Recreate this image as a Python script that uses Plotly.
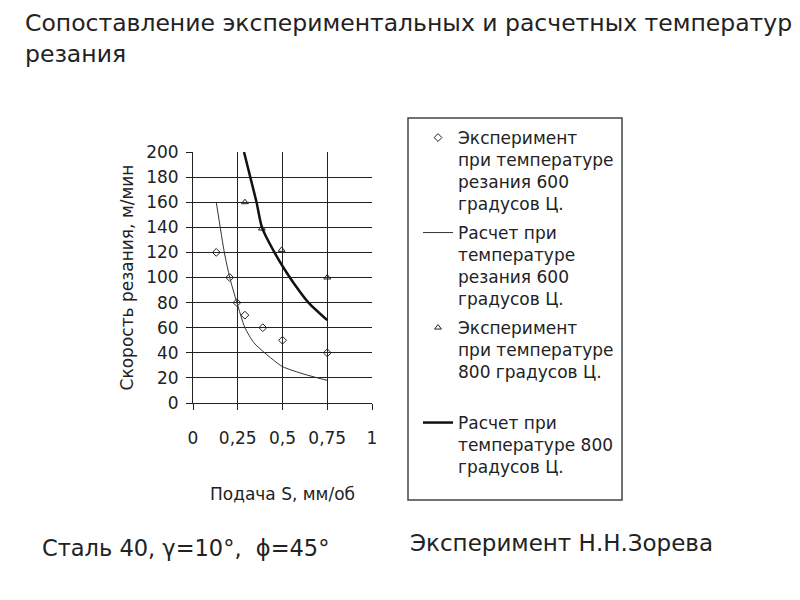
import plotly.graph_objects as go

# Подача S, мм/об  /  скорость резания V, м/мин
exp600_s = [0.13, 0.205, 0.245, 0.29, 0.39, 0.5, 0.75]
exp600_v = [120, 100, 80, 70, 60, 50, 40]

calc600_s = [0.13, 0.175, 0.205, 0.245, 0.29, 0.34, 0.40, 0.5, 0.62, 0.75]
calc600_v = [160, 120, 100, 80, 60, 48, 40, 29, 23, 18]

exp800_s = [0.29, 0.385, 0.495, 0.75]
exp800_v = [160, 139, 122, 100]

calc800_s = [0.285, 0.32, 0.355, 0.385, 0.455, 0.505, 0.57, 0.645, 0.75]
calc800_v = [200, 180, 160, 140, 120, 108, 94, 80, 66]

x_ticks = [0, 0.25, 0.5, 0.75, 1]
x_grid = [0.25, 0.5, 0.75]
y_ticks = list(range(0, 201, 20))
y_grid = list(range(20, 181, 20))

names = [
    "Эксперимент<br>при температуре<br>резания 600<br>градусов Ц.",
    "Расчет при<br>температуре<br>резания 600<br>градусов Ц.",
    "Эксперимент<br>при температуре<br>800 градусов Ц.",
    "Расчет при<br>температуре 800<br>градусов Ц.",
]

FONT = "DejaVu Sans"
INK = "#222222"

fig = go.Figure()

fig.add_trace(go.Scatter(
    x=exp600_s, y=exp600_v, mode="markers", name=names[0], legend="legend",
    marker=dict(symbol="diamond-open", size=6, color=INK, line=dict(width=1)),
))
fig.add_trace(go.Scatter(
    x=calc600_s, y=calc600_v, mode="lines", name=names[1], legend="legend2",
    line=dict(color="#333333", width=1, shape="spline", smoothing=0.6),
))
fig.add_trace(go.Scatter(
    x=exp800_s, y=exp800_v, mode="markers", name=names[2], legend="legend3",
    marker=dict(symbol="triangle-up-open", size=6, color=INK, line=dict(width=1)),
))
fig.add_trace(go.Scatter(
    x=calc800_s, y=calc800_v, mode="lines", name=names[3], legend="legend4",
    line=dict(color="#111111", width=2.5, shape="spline", smoothing=0.6),
    xaxis="x2", yaxis="y2",
))

# page has an 8px body margin; figure is 784x584
OFF = 8
FW, FH = 784, 584
# plot area in screen pixels: x 193..372, y 152..403
L, R, T, B = 193, 372, 152, 403
W, H = R - L, B - T


def px(xs):
    return (xs - L) / W


def py(ys):
    return (B - ys) / H


legend_style = dict(
    font=dict(family=FONT, size=17, color=INK),
    bgcolor="rgba(0,0,0,0)", borderwidth=0, valign="top",
    xanchor="left", yanchor="top", itemwidth=30,
)

fig.update_layout(
    width=FW, height=FH,
    margin=dict(l=L - OFF, r=FW - (R - OFF), t=T - OFF, b=FH - (B - OFF)),
    paper_bgcolor="white", plot_bgcolor="white",
    separators=", ",
    showlegend=True,
    font=dict(family=FONT, size=17, color=INK),
    title=dict(
        text="Сопоставление экспериментальных и расчетных температур<br>резания",
        x=(25 - OFF) / FW, xanchor="left", xref="container",
        y=1 - 23 / FH, yanchor="top", yref="container",
        font=dict(family=FONT, size=23.5, color=INK),
    ),
    xaxis=dict(
        range=[0, 1], tickvals=x_ticks, ticks="outside", ticklen=6,
        tickcolor=INK, showgrid=False, showline=True, linecolor=INK,
        linewidth=1, zeroline=False, ticklabelstandoff=14,
        title=dict(text="Подача S, мм/об", standoff=40,
                   font=dict(family=FONT, size=17, color=INK)),
    ),
    yaxis=dict(
        range=[0, 200], tickvals=y_ticks, ticks="outside", ticklen=6,
        tickcolor=INK, showgrid=False, showline=True, linecolor=INK,
        linewidth=1, zeroline=False, ticklabelstandoff=4,
        title=dict(text="Скорость резания, м/мин", standoff=8,
                   font=dict(family=FONT, size=17, color=INK)),
    ),
    xaxis2=dict(
        range=[0, 1], overlaying="x", tickvals=x_grid, showticklabels=False,
        showgrid=True, gridcolor=INK, gridwidth=1, zeroline=False,
    ),
    yaxis2=dict(
        range=[0, 200], overlaying="y", tickvals=y_grid, showticklabels=False,
        showgrid=True, gridcolor=INK, gridwidth=1, zeroline=False,
    ),
    legend=dict(x=px(418), y=py(120), **legend_style),
    legend2=dict(x=px(418), y=py(215), **legend_style),
    legend3=dict(x=px(418), y=py(310), **legend_style),
    legend4=dict(x=px(418), y=py(405), **legend_style),
    shapes=[dict(
        type="rect", xref="paper", yref="paper",
        x0=px(408), x1=px(622), y0=py(500), y1=py(118),
        line=dict(color="#444444", width=1.5),
    )],
    annotations=[
        dict(text="Сталь 40, γ=10°,  ϕ=45°", xref="paper", yref="paper",
             x=px(40), y=py(548), xanchor="left", yanchor="middle",
             showarrow=False, font=dict(family=FONT, size=22.5, color=INK)),
        dict(text="Эксперимент Н.Н.Зорева", xref="paper", yref="paper",
             x=px(408), y=py(543), xanchor="left", yanchor="middle",
             showarrow=False, font=dict(family=FONT, size=23, color=INK)),
    ],
)

fig.write_html("out.html")
